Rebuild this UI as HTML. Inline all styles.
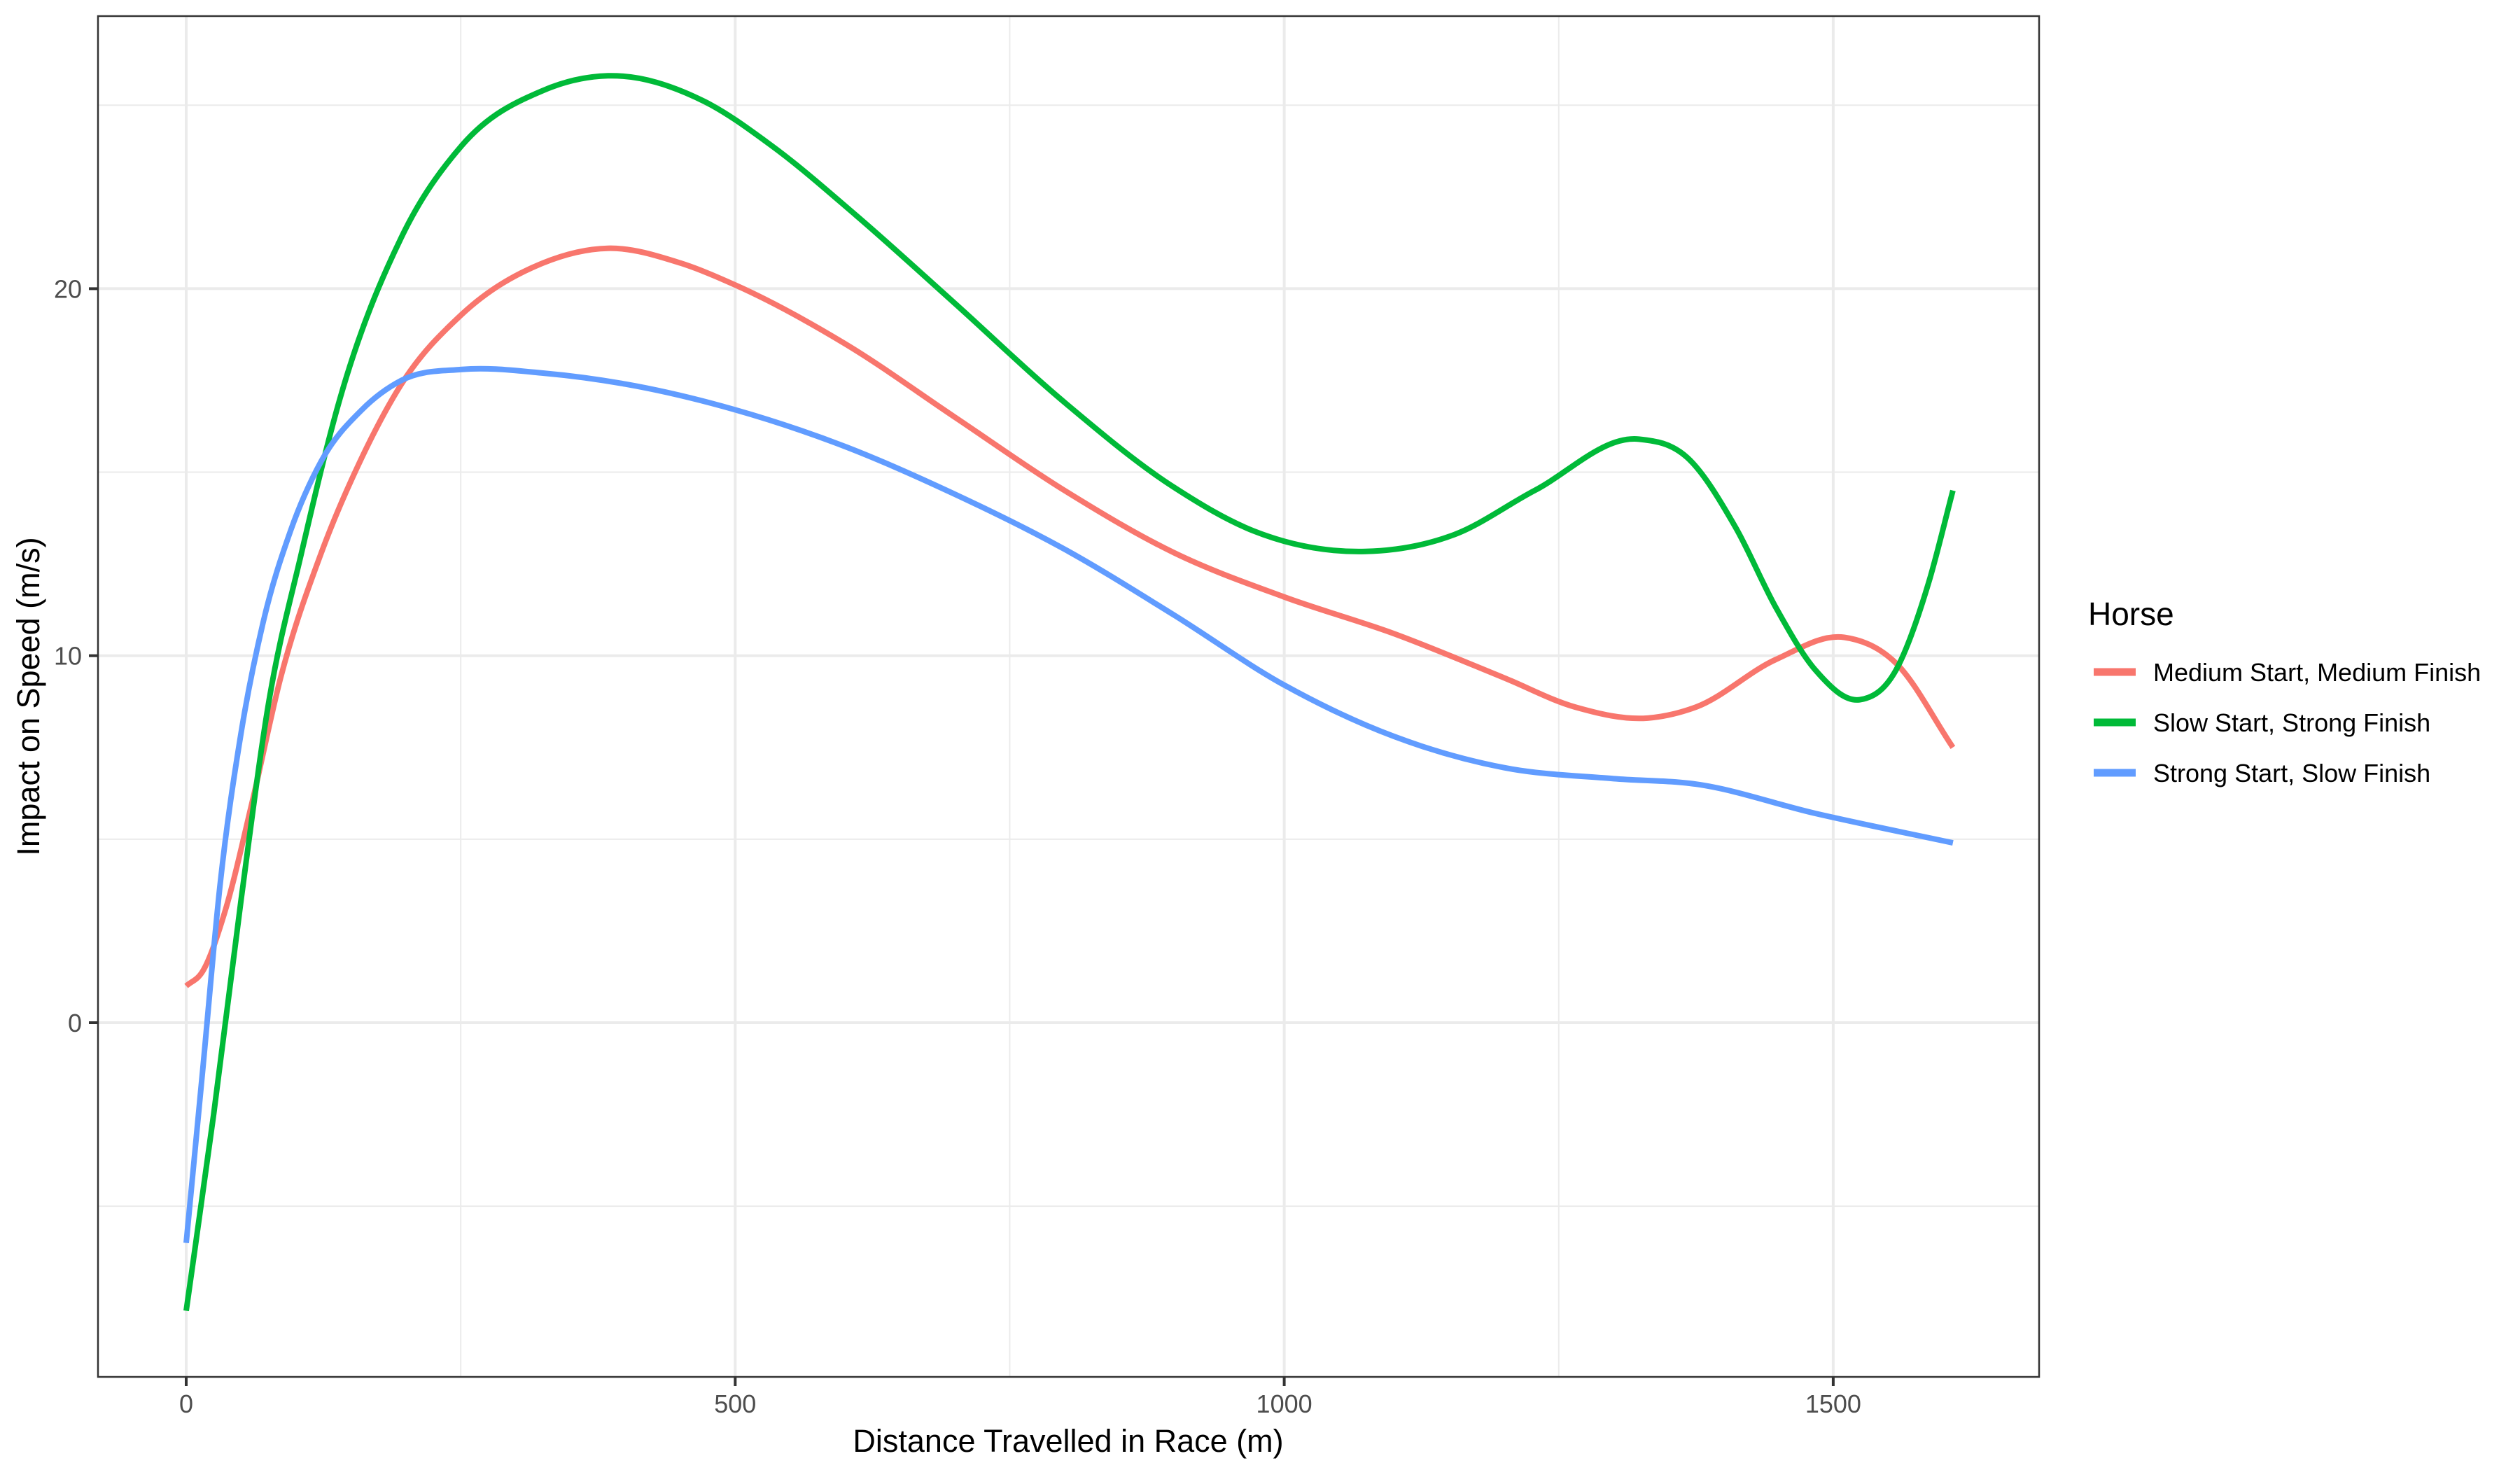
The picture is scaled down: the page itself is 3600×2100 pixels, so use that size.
<!DOCTYPE html>
<html><head><meta charset="utf-8"><style>
html,body{margin:0;padding:0;background:#fff;}
svg{display:block;font-family:"Liberation Sans",sans-serif;}
</style></head><body>
<svg id="chart" width="3600" height="2100" viewBox="0 0 3600 2100">
<rect x="0" y="0" width="3600" height="2100" fill="#fff"/>
<g id="grid"></g>
<g id="series"></g>
<rect x="140" y="23" width="2773" height="1944" fill="none" stroke="#333" stroke-width="2.5"/>
<g id="axes"></g>
<text x="1526" y="2074" text-anchor="middle" font-size="45" fill="#000">Distance Travelled in Race (m)</text>
<text transform="translate(56,995) rotate(-90)" text-anchor="middle" font-size="45" fill="#000">Impact on Speed (m/s)</text>
<g>
<text x="2983" y="893" font-size="46" fill="#000">Horse</text>
<g id="legend-items"></g>
</g>
</svg>
<script>
const xTicks=[0,500,1000,1500];
const xMinor=[250,750,1250];
const yTicks=[0,10,20];
const yMinor=[-5,5,15,25];
const seriesNames=["Medium Start, Medium Finish","Slow Start, Strong Finish","Strong Start, Slow Finish"];
const seriesColors=["#F8766D","#00BA38","#619CFF"];
const xMed=[0,15,35,60,86,123,160,196,251,325,384,450,500,600,700,800,900,1000,1100,1200,1265,1331,1375,1448,1510,1557,1609];
const yMed=[1.0,1.4,3.0,6.0,9.4,12.8,15.4,17.4,19.3,20.7,21.1,20.7,20.1,18.5,16.5,14.5,12.8,11.6,10.6,9.4,8.6,8.3,8.6,9.9,10.5,9.8,7.5];
const xSlow=[0,25,50,75,105,140,196,251,325,384,472,533,610,700,800,899,972,1074,1155,1228,1323,1367,1411,1448,1484,1524,1557,1587,1609];
const ySlow=[-7.85,-2.5,3.35,8.7,12.8,17.0,21.4,23.9,25.4,25.8,25.1,23.9,22.0,19.6,16.9,14.6,13.4,12.84,13.3,14.5,15.9,15.4,13.5,11.3,9.6,8.8,9.6,12.0,14.5];
const xStrong=[0,15,31,50,70,95,123,160,196,251,325,400,500,600,700,800,900,1000,1100,1200,1300,1375,1484,1609];
const yStrong=[-6.0,-1.3,3.8,7.9,10.9,13.4,15.3,16.7,17.5,17.8,17.7,17.4,16.7,15.7,14.4,12.9,11.1,9.2,7.8,6.95,6.65,6.5,5.7,4.9];
const seriesX=[xMed,xSlow,xStrong];
const seriesY=[yMed,ySlow,yStrong];

const X0=266, XS=784.3/500, Y0=1461, YS=524.3/10;
function sx(v){return X0+v*XS;}
function sy(v){return Y0-v*YS;}
const NS="http://www.w3.org/2000/svg";
function mk(tag,attrs,parent){const e=document.createElementNS(NS,tag);for(const k in attrs)e.setAttribute(k,attrs[k]);parent.appendChild(e);return e;}
const grid=document.getElementById('grid'),axes=document.getElementById('axes'),ser=document.getElementById('series'),leg=document.getElementById('legend-items');
xMinor.forEach(v=>{const l=mk('line',{x1:sx(v),x2:sx(v),y1:23,y2:1967,stroke:'#ebebeb','stroke-width':2},grid);

});
yMinor.forEach(v=>{const l=mk('line',{x1:140,x2:2913,y1:sy(v),y2:sy(v),stroke:'#ebebeb','stroke-width':2},grid);

});
xTicks.forEach(v=>{const l=mk('line',{x1:sx(v),x2:sx(v),y1:23,y2:1967,stroke:'#ebebeb','stroke-width':4},grid);


const t=mk('line',{x1:sx(v),x2:sx(v),y1:1967,y2:1980,stroke:'#333','stroke-width':4},axes);


const tx=mk('text',{x:sx(v),y:2018,'text-anchor':'middle','font-size':36,fill:'#4d4d4d'},axes);tx.textContent=v;

});
yTicks.forEach(v=>{const l=mk('line',{x1:140,x2:2913,y1:sy(v),y2:sy(v),stroke:'#ebebeb','stroke-width':4},grid);


const t=mk('line',{x1:127,x2:140,y1:sy(v),y2:sy(v),stroke:'#333','stroke-width':4},axes);


const tx=mk('text',{x:117,y:sy(v)+13,'text-anchor':'end','font-size':36,fill:'#4d4d4d'},axes);tx.textContent=v;

});
function pathFor(xs,ys){
  const n=xs.length,px=xs.map(sx),py=ys.map(sy),m=[];
  for(let i=0;i<n;i++){
    if(i===0)m.push((py[1]-py[0])/(px[1]-px[0]));
    else if(i===n-1)m.push((py[n-1]-py[n-2])/(px[n-1]-px[n-2]));
    else{const h0=px[i]-px[i-1],h1=px[i+1]-px[i],d0=(py[i]-py[i-1])/h0,d1=(py[i+1]-py[i])/h1;m.push((d0*h1+d1*h0)/(h0+h1));}
  }
  let d='M'+px[0]+','+py[0];
  for(let i=0;i<n-1;i++){const h=px[i+1]-px[i];
    d+=' C'+(px[i]+h/3)+','+(py[i]+m[i]*h/3)+' '+(px[i+1]-h/3)+','+(py[i+1]-m[i+1]*h/3)+' '+px[i+1]+','+py[i+1];}
  return d;}
seriesNames.forEach((n,i)=>{const p=mk('path',{d:pathFor(seriesX[i],seriesY[i]),fill:'none',stroke:seriesColors[i],'stroke-width':8,'stroke-linejoin':'round'},ser);


const y=960+i*72;
const l=mk('line',{x1:2991,x2:3051,y1:y,y2:y,stroke:seriesColors[i],'stroke-width':11},leg);


const t=mk('text',{x:3076,y:y+13,'font-size':36,fill:'#000'},leg);t.textContent=n;

});
</script>
</body></html>
